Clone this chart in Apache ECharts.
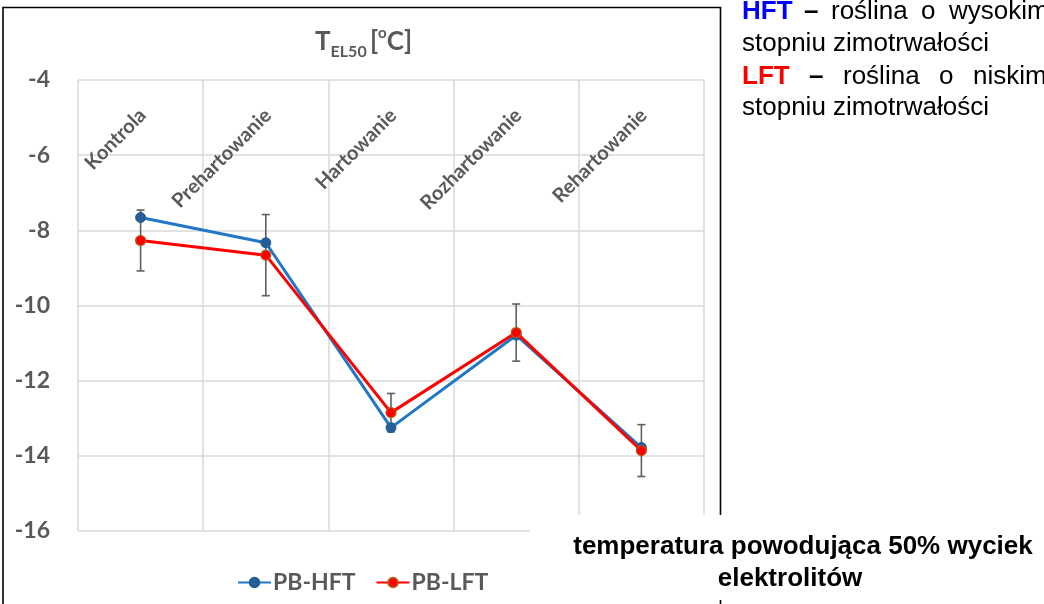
<!DOCTYPE html>
<html><head><meta charset="utf-8">
<script src="https://cdn.jsdelivr.net/npm/echarts@6/dist/echarts.min.js"></script>
<style>html,body{margin:0;padding:0;background:#fff}#c{width:1044px;height:604px}</style>
</head><body><div id="c"></div>
<script>
const categories = ['Kontrola', 'Prehartowanie', 'Hartowanie', 'Rozhartowanie', 'Rehartowanie'];
const hftValues = [-7.66, -8.33, -13.25, -10.79, -13.78];
const lftValues = [-8.27, -8.66, -12.85, -10.72, -13.86];
const lftErrors = [0.81, 1.08, 0.51, 0.76, 0.69];
const seriesNames = ['PB-HFT', 'PB-LFT'];
const yMin = -16, yMax = -4, yStep = 2;

const gray = '#595959';
const CAL = 'Lato';
const ARIAL = 'Liberation Sans';

const chart = echarts.init(document.getElementById('c'), null, {renderer: 'canvas'});

function txt(text, x, y, opts) {
  return {
    type: 'text', x: x, y: y, z: 101,
    style: Object.assign({text: text, fontFamily: ARIAL, fontSize: 26, fill: '#000',
      textVerticalAlign: 'top', textAlign: 'left'}, opts || {})
  };
}

const option = {
  animation: false,
  backgroundColor: '#fff',
  title: {
    left: 310, top: 19,
    text: '{t|T}{s|EL50}{t|\u2009[}{p|o}{t|C]}',
    textStyle: {
      rich: {
        t: {fontFamily: CAL, fontWeight: 'bold', fontSize: 26, color: gray, lineHeight: 36, verticalAlign: 'middle'},
        s: {fontFamily: CAL, fontWeight: 'bold', fontSize: 16, color: gray, lineHeight: 36, verticalAlign: 'bottom'},
        p: {fontFamily: CAL, fontWeight: 'bold', fontSize: 15, color: gray, lineHeight: 36, verticalAlign: 'top', padding: [2, 0, 0, 0]}
      }
    }
  },
  grid: {left: 78, right: 340, top: 80, bottom: 73, containLabel: false},
  legend: {
    data: seriesNames, left: 232, top: 566, itemWidth: 33, itemHeight: 12, itemGap: 20,
    textStyle: {fontFamily: CAL, fontWeight: 'bold', fontSize: 23, color: gray, padding: [0, 0, 0, -3]}
  },
  xAxis: {
    type: 'category', data: categories, position: 'top', boundaryGap: true,
    axisLine: {show: false}, axisTick: {show: false},
    splitLine: {show: true, lineStyle: {color: '#D9D9D9', width: 1.5}},
    axisLabel: {inside: true, rotate: -45, margin: 20, interval: 0, hideOverlap: false,
      align: 'right', verticalAlign: 'top', padding: [0, 7, 0, 0],
      fontFamily: CAL, fontWeight: 'bold', fontSize: 20, color: gray}
  },
  yAxis: {
    type: 'value', min: yMin, max: yMax, interval: yStep,
    axisLine: {show: false}, axisTick: {show: false},
    splitLine: {show: true, lineStyle: {color: '#D9D9D9', width: 1.5}},
    axisLabel: {margin: 28, fontFamily: CAL, fontWeight: 'bold', fontSize: 23, color: gray}
  },
  series: [
    {
      type: 'custom', name: 'err', z: 1, silent: true,
      data: categories.map((c, i) => [i, lftValues[i], lftErrors[i]]),
      encode: {x: 0, y: 1},
      renderItem: function (params, api) {
        const i = api.value(0), v = api.value(1), e = api.value(2);
        const top = api.coord([i, v + e]);
        const bot = api.coord([i, v - e]);
        const w = 4;
        const st = {stroke: '#5F5F5F', lineWidth: 1.6};
        return {type: 'group', children: [
          {type: 'line', shape: {x1: top[0], y1: top[1], x2: bot[0], y2: bot[1]}, style: st},
          {type: 'line', shape: {x1: top[0] - w, y1: top[1], x2: top[0] + w, y2: top[1]}, style: st},
          {type: 'line', shape: {x1: bot[0] - w, y1: bot[1], x2: bot[0] + w, y2: bot[1]}, style: st}
        ]};
      }
    },
    {
      type: 'line', name: seriesNames[0], data: hftValues, z: 3,
      symbol: 'circle', symbolSize: 10,
      lineStyle: {color: '#1F77C6', width: 3},
      itemStyle: {color: '#255E96', borderColor: '#255E96', borderWidth: 1}
    },
    {
      type: 'line', name: seriesNames[1], data: lftValues, z: 4,
      symbol: 'circle', symbolSize: 10,
      lineStyle: {color: '#FF0000', width: 3},
      itemStyle: {color: '#FF0000', borderColor: '#B55A16', borderWidth: 1.2}
    }
  ],
  graphic: [
    {type: 'rect', z: 0, shape: {x: 3, y: 7.5, width: 717.5, height: 640},
      style: {fill: 'none', stroke: '#000', lineWidth: 1.6}},
    {type: 'rect', z: 100, shape: {x: 722, y: 0, width: 322, height: 120}, style: {fill: '#fff'}},
    {type: 'rect', z: 100, shape: {x: 530, y: 515, width: 514, height: 85}, style: {fill: '#fff'}},
    txt('HFT', 742, -1, {fill: '#0000FF', fontWeight: 'bold'}),
    txt('\u2013', 804, -1, {fontWeight: 'bold'}),
    txt('roślina', 831, -1),
    txt('o', 921, -1),
    txt('wysokim', 949, -1),
    txt('stopniu zimotrwałości', 742, 31),
    txt('LFT', 742, 64, {fill: '#FF0000', fontWeight: 'bold'}),
    txt('\u2013', 809, 64, {fontWeight: 'bold'}),
    txt('roślina', 843, 64),
    txt('o', 939, 64),
    txt('niskim', 973, 64),
    txt('stopniu zimotrwałości', 742, 95),
    txt('temperatura powodująca 50% wyciek', 803, 534, {fontWeight: 'bold', textAlign: 'center'}),
    txt('elektrolitów', 790, 566, {fontWeight: 'bold', textAlign: 'center'})
  ]
};
chart.setOption(option);
</script>
</body></html>
